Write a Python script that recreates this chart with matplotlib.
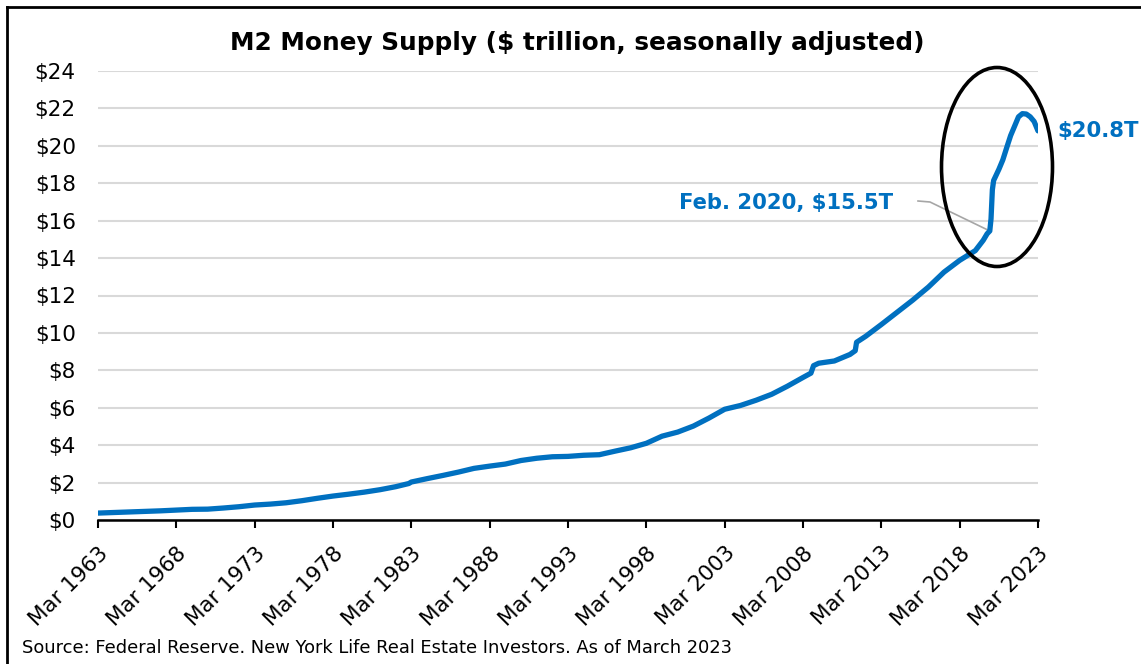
import numpy as np
import pandas as pd
import matplotlib
matplotlib.use("Agg")
import matplotlib.pyplot as plt
import matplotlib.dates as mdates
from matplotlib.patches import Ellipse
from matplotlib.lines import Line2D

# M2 money supply, $ trillion, seasonally adjusted
dates = [
    "1963-03", "1964-03", "1965-03", "1966-03", "1967-03", "1968-03", "1969-03",
    "1970-03", "1971-03", "1972-03", "1973-03", "1974-03", "1975-03", "1976-03",
    "1977-03", "1978-03", "1979-03", "1980-03", "1981-03", "1982-03", "1983-01",
    "1983-03", "1984-03", "1985-03", "1986-03", "1987-03", "1988-03", "1989-03",
    "1990-03", "1991-03", "1992-03", "1993-03", "1994-03", "1995-03", "1996-03",
    "1997-03", "1998-03", "1999-03", "2000-03", "2001-03", "2002-03", "2003-03",
    "2004-03", "2005-03", "2006-03", "2007-03", "2008-03", "2008-09", "2008-11",
    "2009-03", "2010-03", "2011-03", "2011-07", "2011-08", "2012-03", "2013-03",
    "2014-03", "2015-03", "2016-03", "2017-03", "2018-03", "2019-03", "2019-09",
    "2019-12", "2020-02", "2020-03", "2020-04", "2020-05", "2020-06", "2020-09",
    "2020-12", "2021-03", "2021-06", "2021-09", "2021-12", "2022-03", "2022-06",
    "2022-09", "2022-12", "2023-03",
]
m2 = [
    0.37, 0.40, 0.43, 0.46, 0.49, 0.53, 0.57,
    0.58, 0.64, 0.71, 0.80, 0.85, 0.92, 1.03,
    1.16, 1.28, 1.38, 1.49, 1.62, 1.78, 1.95,
    2.03, 2.21, 2.38, 2.56, 2.76, 2.88, 2.99,
    3.18, 3.30, 3.38, 3.40, 3.46, 3.49, 3.68,
    3.86, 4.10, 4.48, 4.70, 5.02, 5.45, 5.92,
    6.12, 6.40, 6.72, 7.15, 7.62, 7.85, 8.25,
    8.38, 8.50, 8.85, 9.05, 9.50, 9.82, 10.45,
    11.10, 11.75, 12.45, 13.25, 13.88, 14.40, 14.95,
    15.30, 15.45, 16.10, 17.65, 18.15, 18.30, 18.75,
    19.25, 19.90, 20.55, 21.05, 21.55, 21.72, 21.70,
    21.55, 21.30, 20.80,
]

tick_years = list(range(1963, 2024, 5))
tick_labels = [f"Mar {y}" for y in tick_years]
y_ticks = list(range(0, 25, 2))

feb20_label = "Feb. 2020, $15.5T"
feb20_date = "2020-02"
feb20_value = 15.45
last_label = "$20.8T"

blue = "#0070C0"
W, H = 1141, 664

x = pd.to_datetime(dates)
fig = plt.figure(figsize=(W / 100, H / 100), dpi=100)
ax = fig.add_axes([98 / W, 1 - 520 / H, 940 / W, 449 / H])

ax.plot(x, m2, color=blue, lw=3.8, solid_capstyle="round", solid_joinstyle="round", zorder=3)

ax.set_ylim(0, 24)
ax.set_yticks(y_ticks)
ax.set_yticklabels([f"${v}" for v in y_ticks], fontsize=15.5)
ax.tick_params(axis="y", length=0, pad=16)
ax.grid(axis="y", color="#D9D9D9", lw=1.5)
ax.set_axisbelow(True)

xt = pd.to_datetime([f"{y}-03-01" for y in tick_years])
ax.set_xlim(xt[0], xt[-1])
ax.set_xticks(xt)
ax.set_xticklabels(tick_labels, rotation=45, ha="right", rotation_mode="anchor", fontsize=15.5)
ax.tick_params(axis="x", direction="out", length=5.5, width=1.5, pad=11)

for s in ["left", "right", "top"]:
    ax.spines[s].set_visible(False)
ax.spines["bottom"].set_linewidth(1.8)

fig.text(577 / W, 1 - 43 / H, "M2 Money Supply ($ trillion, seasonally adjusted)",
         fontsize=17.8, fontweight="bold", ha="center", va="center")

# pixel -> data helper for placing callouts
px = ax.transData.inverted()

# callout for the pre-pandemic level
feb_x = mdates.date2num(pd.Timestamp(feb20_date))
fx, fy = px.transform((893, H - 203))
ax.text(fx, fy, feb20_label, ha="right", va="center", color=blue,
        fontsize=15.2, fontweight="bold")
p1 = px.transform((918, H - 201))
p2 = px.transform((930, H - 202))
ax.add_line(Line2D([p1[0], p2[0], feb_x], [p1[1], p2[1], feb20_value],
                   color="#A6A6A6", lw=1.2, zorder=2))

ex, ey = px.transform((1057, H - 131))
ax.text(ex, ey, last_label, ha="left", va="center", color=blue,
        fontsize=15.3, fontweight="bold", clip_on=False)

# ellipse around the 2020-2023 surge
cx, cy = px.transform((997, H - 167))
w_days = 111 / 940 * (mdates.date2num(xt[-1]) - mdates.date2num(xt[0]))
ax.add_patch(Ellipse((cx, cy), w_days, 199 / 449 * 24, fill=False,
                     edgecolor="black", lw=2.6, clip_on=False, zorder=4))

fig.text(22 / W, 1 - 648 / H,
         "Source: Federal Reserve. New York Life Real Estate Investors. As of March 2023",
         fontsize=12.9, va="center", ha="left")

# frame
fig.add_artist(Line2D([7 / W, 7 / W], [0, 1 - 7 / H], color="black", lw=2,
                      transform=fig.transFigure))
fig.add_artist(Line2D([7 / W, 1], [1 - 7 / H, 1 - 7 / H], color="black", lw=2,
                      transform=fig.transFigure))

fig.savefig("out.png", dpi=100)
